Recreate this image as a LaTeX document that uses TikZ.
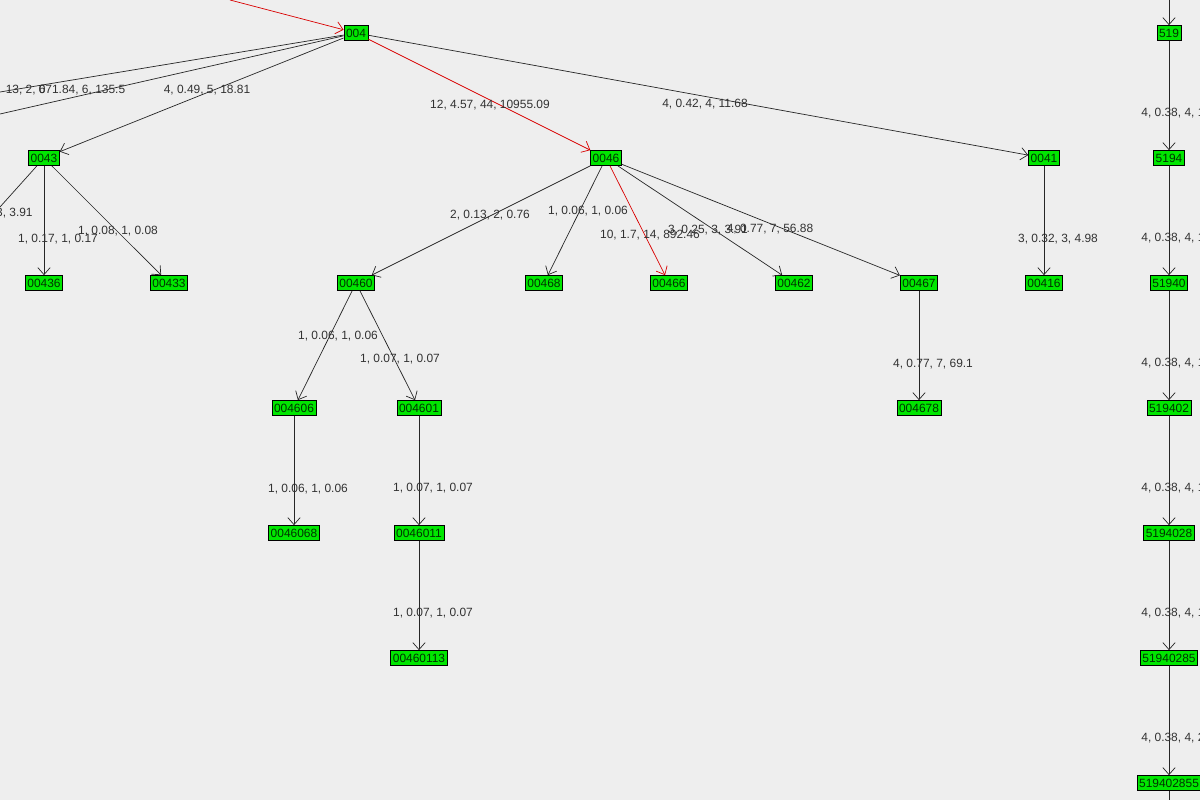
\documentclass[tikz,border=0pt]{standalone}
\usepackage{fontspec}
\setmainfont{Liberation Sans}
\usetikzlibrary{arrows.meta,positioning}
\definecolor{bg}{RGB}{238,238,238}
\definecolor{vgreen}{RGB}{0,230,0}
\definecolor{lbl}{RGB}{50,50,50}
\begin{document}
\begin{tikzpicture}[x=0.02cm,y=-0.02cm,font=\fontsize{6.8}{8}\selectfont]

    \tikzstyle{vert}=[draw=black,fill=vgreen,inner sep=1.2pt,minimum height=0.3cm,text=black!80!green]
    \tikzstyle{edge}=[-{Straight Barb[length=4pt,width=7pt]},black!85]
    \tikzstyle{hot}=[edge,red!85!black]
    \tikzstyle{elabel}=[text=lbl,inner sep=0pt]

    \fill[bg] (0,0) rectangle (1200,800);
    \useasboundingbox (0,0) rectangle (1200,800);
    \clip (0,0) rectangle (1200,800);

    % off-picture ends
    \coordinate (in004) at (230,0);
    \coordinate (outA) at (0,92);
    \coordinate (outB) at (0,114);
    \coordinate (outC) at (0,207);
    \coordinate (in519) at (1169,-20);
    \coordinate (out855) at (1169,820);

    % left tree
    \node (n004) [vert] at (356,33) {004};
    \node (n0043) [vert] at (44,158) {0043};
    \node (n0046) [vert] at (606,158) {0046};
    \node (n0041) [vert] at (1044,158) {0041};
    \node (n00436) [vert] at (44,283) {00436};
    \node (n00433) [vert] at (169,283) {00433};
    \node (n00460) [vert] at (356,283) {00460};
    \node (n00468) [vert] at (544,283) {00468};
    \node (n00466) [vert] at (669,283) {00466};
    \node (n00462) [vert] at (794,283) {00462};
    \node (n00467) [vert] at (919,283) {00467};
    \node (n00416) [vert] at (1044,283) {00416};
    \node (n004606) [vert] at (294,408) {004606};
    \node (n004601) [vert] at (419,408) {004601};
    \node (n004678) [vert] at (919,408) {004678};
    \node (n0046068) [vert] at (294,533) {0046068};
    \node (n0046011) [vert] at (419,533) {0046011};
    \node (n00460113) [vert] at (419,658) {00460113};

    % right chain
    \node (n519) [vert] at (1169,33) {519};
    \node (n5194) [vert] at (1169,158) {5194};
    \node (n51940) [vert] at (1169,283) {51940};
    \node (n519402) [vert] at (1169,408) {519402};
    \node (n5194028) [vert] at (1169,533) {5194028};
    \node (n51940285) [vert] at (1169,658) {51940285};
    \node (n519402855) [vert] at (1169,783) {519402855};

    \draw [hot] (in004) -- (n004);
    \draw [edge,-] (n004) -- (outA);
    \draw [edge,-] (n004) -- (outB);
    \draw [edge] (n004) -- (n0043);
    \draw [hot] (n004) -- (n0046);
    \draw [edge] (n004) -- (n0041);
    \draw [edge,-] (n0043) -- (outC);
    \draw [edge] (n0043) -- (n00436);
    \draw [edge] (n0043) -- (n00433);
    \draw [edge] (n0046) -- (n00460);
    \draw [edge] (n0046) -- (n00468);
    \draw [hot] (n0046) -- (n00466);
    \draw [edge] (n0046) -- (n00462);
    \draw [edge] (n0046) -- (n00467);
    \draw [edge] (n0041) -- (n00416);
    \draw [edge] (n00460) -- (n004606);
    \draw [edge] (n00460) -- (n004601);
    \draw [edge] (n00467) -- (n004678);
    \draw [edge] (n004606) -- (n0046068);
    \draw [edge] (n004601) -- (n0046011);
    \draw [edge] (n0046011) -- (n00460113);

    \draw [edge] (in519) -- (n519);
    \draw [edge] (n519) -- (n5194);
    \draw [edge] (n5194) -- (n51940);
    \draw [edge] (n51940) -- (n519402);
    \draw [edge] (n519402) -- (n5194028);
    \draw [edge] (n5194028) -- (n51940285);
    \draw [edge] (n51940285) -- (n519402855);
    \draw [edge,-] (n519402855) -- (out855);

    % edge labels
    \node [elabel,anchor=east] at (46,90) {13, 2, 0};
    \node [elabel] at (82,90) {671.84, 6, 135.5};
    \node [elabel] at (207,90) {4, 0.49, 5, 18.81};
    \node [elabel,anchor=east] at (33,213) {3, 3.91};
    \node [elabel] at (58,239) {1, 0.17, 1, 0.17};
    \node [elabel] at (118,231) {1, 0.08, 1, 0.08};
    \node [elabel] at (490,105) {12, 4.57, 44, 10955.09};
    \node [elabel] at (705,104) {4, 0.42, 4, 11.68};
    \node [elabel] at (490,215) {2, 0.13, 2, 0.76};
    \node [elabel] at (588,211) {1, 0.06, 1, 0.06};
    \node [elabel] at (650,235) {10, 1.7, 14, 892.46};
    \node [elabel] at (708,230) {3, 0.25, 3, 3.91};
    \node [elabel] at (770,229) {4, 0.77, 7, 56.88};
    \node [elabel] at (1058,239) {3, 0.32, 3, 4.98};
    \node [elabel] at (338,336) {1, 0.06, 1, 0.06};
    \node [elabel] at (400,359) {1, 0.07, 1, 0.07};
    \node [elabel] at (933,364) {4, 0.77, 7, 69.1};
    \node [elabel] at (308,489) {1, 0.06, 1, 0.06};
    \node [elabel] at (433,488) {1, 0.07, 1, 0.07};
    \node [elabel] at (433,613) {1, 0.07, 1, 0.07};
    \foreach \yy in {113,238,363,488,613}
        \node [elabel,anchor=west] at (1141,\yy) {4, 0.38, 4, 15.2};
    \node [elabel,anchor=west] at (1141,738) {4, 0.38, 4, 20.5};

\end{tikzpicture}
\end{document}
